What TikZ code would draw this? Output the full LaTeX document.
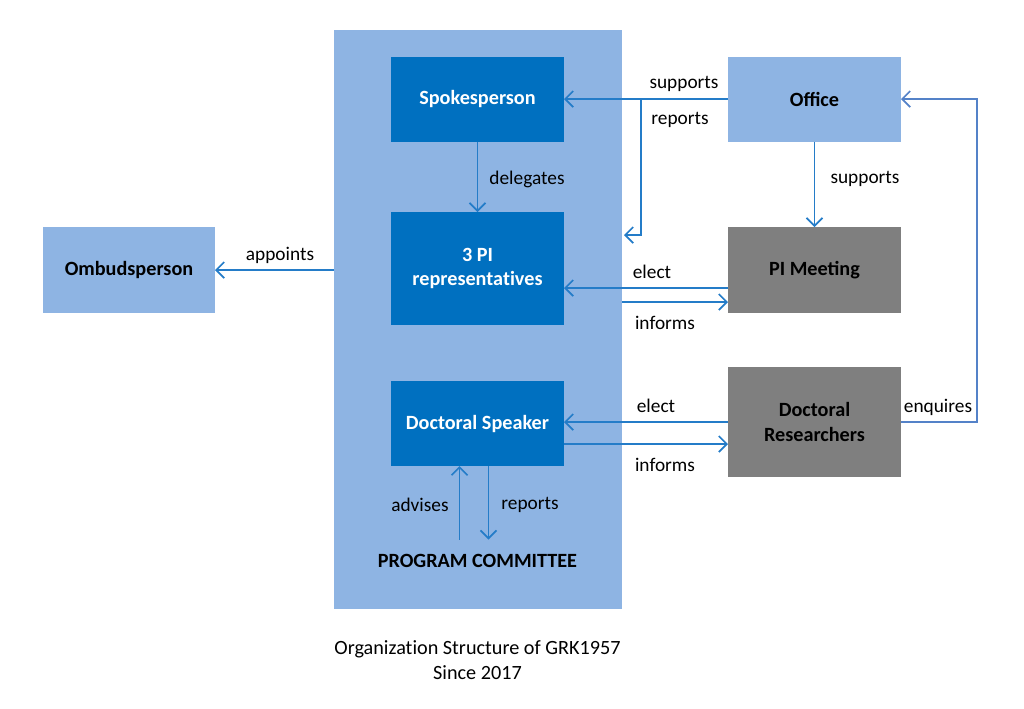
\documentclass[tikz,border=0pt]{standalone}
\usepackage{fontspec}
\setmainfont{Carlito}
\definecolor{grk_panel}{RGB}{142, 180, 227}
\definecolor{grk_dark}{RGB}{0, 112, 192}
\definecolor{grk_gray}{RGB}{127, 127, 127}
\definecolor{grk_line}{RGB}{36, 124, 200}
\definecolor{grk_enq}{RGB}{84, 130, 200}
\usetikzlibrary{arrows.meta, positioning, calc}

\begin{document}
\begin{tikzpicture}[
        box/.style={rectangle, minimum width=3.46cm, minimum height=1.7cm,
                    inner sep=0pt, outer sep=0pt, align=center,
                    font=\fontsize{11.5}{14}\selectfont\bfseries},
        darkbox/.style={box, fill=grk_dark, text=white},
        lightbox/.style={box, fill=grk_panel},
        graybox/.style={box, fill=grk_gray},
        lbl/.style={font=\fontsize{11}{13}\selectfont, inner sep=0pt},
        arr/.style={-{Straight Barb[length=1.6mm, width=3.2mm]}, line width=1pt, grk_line},
      ]
        \useasboundingbox (0,0) rectangle (20.48,-14.16);

        \node[fill=grk_panel, minimum width=5.76cm, minimum height=11.58cm,
              inner sep=0pt, outer sep=0pt] (panel) at (9.56,-6.39) {};

        \node[darkbox] (spk) at (9.55,-1.98) {Spokesperson};
        \node[darkbox, minimum height=2.26cm] (pi3) at (9.55,-5.37)
          {3 PI\\representat\kern0pt ives};
        \node[darkbox] (dsp) at (9.55,-8.47) {Doctoral Speaker};
        \node[font=\fontsize{11.5}{14}\selectfont\bfseries, minimum height=0.84cm,
              inner sep=0pt] (prc) at (9.55,-11.22) {PROGRAM COMMITTEE};

        \node[lightbox, minimum width=3.44cm, minimum height=1.72cm] (omb) at (2.58,-5.4)
          {Ombudsperson};
        \node[lightbox] (off) at (16.29,-1.98) {Office};
        \node[graybox, minimum height=1.72cm] (pim) at (16.29,-5.4) {PI Meeting};
        \node[graybox, minimum height=2.2cm] (dr) at (16.29,-8.44)
          {Doctoral\\Researchers};

        \node[font=\fontsize{11.5}{14}\selectfont, align=center] (cap) at (9.55,-13.2)
          {Organizat\kern0pt ion Structure of GRK1957\\Since 2017};

        \coordinate (rp) at (12.82,-1.98);
        \coordinate (rpend) at (12.48,-4.7);

        \draw[arr] (off.west) -- (spk.east);
        \draw[arr] (rp) |- (rpend);
        \draw[arr] (spk.south) -- (pi3.north);
        \draw[arr] (panel.west |- omb.east) -- (omb.east);
        \draw[arr] ([yshift=-0.36cm]pim.west) -- ([yshift=-0.36cm]pim.west -| pi3.east);
        \draw[arr] ([yshift=-0.64cm]pim.west -| panel.east) -- ([yshift=-0.64cm]pim.west);
        \draw[arr] (off.south) -- (pim.north);
        \draw[arr] (dr.west) -- (dr.west -| dsp.east);
        \draw[arr] ([yshift=-0.44cm]dr.west -| dsp.east) -- ([yshift=-0.44cm]dr.west);
        \draw[arr] ([xshift=-0.36cm]prc.north) -- ([xshift=-0.36cm]prc.north |- dsp.south);
        \draw[arr] ([xshift=0.22cm]dsp.south) -- ([xshift=0.22cm]prc.north);
        \draw[arr, grk_enq] (dr.east) -- ++(1.52,0) |- (off.east);

        \node[lbl] (l_sup1) at (13.68,-1.68) {supports};
        \node[lbl] (l_rep1) at (13.6,-2.4) {reports};
        \node[lbl] (l_del) at (10.54,-3.58) {delegates};
        \node[lbl] (l_app) at (5.6,-5.1) {appoints};
        \node[lbl] (l_sup2) at (17.3,-3.58) {supports};
        \node[lbl] (l_el1) at (13.04,-5.44) {elect};
        \node[lbl] (l_inf1) at (13.3,-6.46) {informs};
        \node[lbl] (l_el2) at (13.12,-8.12) {elect};
        \node[lbl] (l_inf2) at (13.3,-9.3) {informs};
        \node[lbl] (l_enq) at (18.76,-8.14) {enquires};
        \node[lbl] (l_adv) at (8.4,-10.1) {advises};
        \node[lbl] (l_rep2) at (10.6,-10.1) {reports};
      \end{tikzpicture}
\end{document}
